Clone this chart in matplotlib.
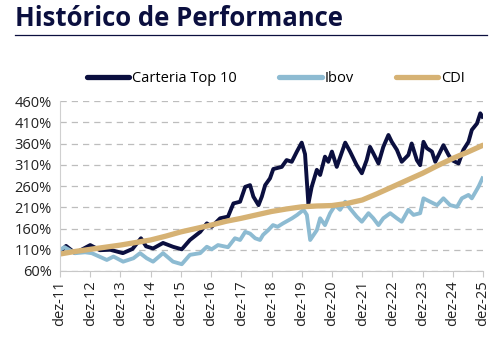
import matplotlib
matplotlib.use("Agg")
import matplotlib.pyplot as plt
from matplotlib.lines import Line2D
import numpy as np

# years since dez-11
tick_labels = ['dez-11', 'dez-12', 'dez-13', 'dez-14', 'dez-15', 'dez-16', 'dez-17',
               'dez-18', 'dez-19', 'dez-20', 'dez-21', 'dez-22', 'dez-23', 'dez-24', 'dez-25']

top10_t = [0, 0.2, 0.5, 1.0, 1.32, 1.66, 2.08, 2.4, 2.68, 2.85, 3.08, 3.41, 3.74, 4.03,
           4.3, 4.64, 4.86, 5.02, 5.3, 5.56, 5.74, 5.96, 6.13, 6.29, 6.4, 6.57, 6.68,
           6.79, 6.95, 7.06, 7.34, 7.5, 7.67, 7.84, 8.0, 8.11, 8.22, 8.33, 8.5, 8.61,
           8.77, 8.88, 9.0, 9.16, 9.44, 9.6, 9.82, 9.99, 10.15, 10.26, 10.37, 10.54,
           10.7, 10.87, 10.98, 11.15, 11.31, 11.53, 11.64, 11.81, 11.92, 12.03, 12.14,
           12.31, 12.42, 12.69, 12.86, 12.97, 13.19, 13.35, 13.52, 13.63, 13.8, 13.91, 13.98]
top10_v = [105, 119, 102, 121, 109, 110, 102, 112, 137, 118, 113, 126, 117, 111,
           133, 152, 172, 164, 184, 188, 219, 223, 258, 262, 235, 215, 235,
           262, 278, 300, 305, 321, 317, 341, 362, 335, 218, 258, 298, 286,
           329, 317, 341, 305, 362, 341, 309, 290, 321, 352, 337, 313,
           352, 380, 364, 345, 317, 333, 360, 321, 309, 364, 349,
           341, 317, 356, 333, 321, 313, 345, 364, 392, 407, 431, 423]

ibov_t = [0, 0.15, 0.5, 0.83, 1.05, 1.55, 1.77, 2.09, 2.43, 2.65, 2.87, 3.08, 3.41, 3.74,
          4.03, 4.3, 4.64, 4.86, 5.02, 5.23, 5.56, 5.79, 5.96, 6.13, 6.29, 6.46, 6.62,
          6.72, 6.89, 7.05, 7.2, 7.38, 7.68, 7.85, 8.06, 8.17, 8.28, 8.5, 8.61, 8.77,
          8.94, 9.11, 9.27, 9.44, 9.6, 9.82, 9.99, 10.21, 10.37, 10.54, 10.7, 10.93,
          11.15, 11.31, 11.53, 11.7, 11.92, 12.03, 12.25, 12.48, 12.69, 12.91, 13.14,
          13.3, 13.52, 13.63, 13.85, 13.98]
ibov_v = [110, 116, 102, 104, 102, 86, 94, 82, 90, 102, 90, 82, 102, 82,
          76, 98, 102, 117, 111, 121, 116, 137, 133, 152, 148, 137, 133,
          145, 156, 168, 164, 172, 184, 192, 204, 192, 133, 156, 184, 168,
          196, 215, 204, 223, 207, 188, 176, 196, 184, 168, 184, 196,
          184, 176, 204, 192, 196, 231, 223, 215, 231, 215, 211,
          231, 239, 231, 258, 278]

cdi_t = [0, 0.5, 1, 1.5, 2, 2.5, 3, 3.5, 4, 4.5, 5, 5.5, 6, 6.5, 7, 7.5, 8, 8.5, 9,
         9.5, 10, 10.5, 11, 11.5, 12, 12.5, 13, 13.5, 14]
cdi_v = [100, 106, 111, 116, 121, 127, 133, 142, 152, 160, 168, 177, 184, 192, 200,
         206, 211, 213, 214, 219, 227, 242, 258, 274, 290, 308, 325, 340, 356]

navy = '#0b0f3f'
light = '#8dbbd2'
tan = '#d6b274'

fig = plt.figure(figsize=(5.04, 3.39), dpi=100)

# title and rule
fig.text(15 / 504, 1 - 18 / 339, 'Histórico de Performance', fontsize=18.5,
         fontweight='bold', color=navy, family='Open Sans', va='center', ha='left')
fig.add_artist(Line2D([15 / 504, 487 / 504], [1 - 35 / 339, 1 - 35 / 339],
                      color=navy, lw=0.9, transform=fig.transFigure))

ax = fig.add_axes([60 / 504, 68 / 339, 423 / 504, 170 / 339])

ax.plot(top10_t, top10_v, color=navy, lw=2.8, solid_joinstyle='round', label='Carteria Top 10')
ax.plot(ibov_t, ibov_v, color=light, lw=2.8, solid_joinstyle='round', label='Ibov')
ax.plot(cdi_t, cdi_v, color=tan, lw=3.8, solid_capstyle='round', label='CDI')

ax.set_xlim(0, 14)
ax.set_ylim(60, 460)
ax.set_yticks(np.arange(60, 461, 50))
ax.set_yticklabels(['%d%%' % v for v in range(60, 461, 50)])
ax.set_xticks(np.arange(15))
ax.set_xticklabels(tick_labels, rotation=90)
ax.grid(axis='y', color='#bdbdbd', linestyle=(0, (5, 4)), lw=0.9)
ax.set_axisbelow(True)
for s in ['top', 'right']:
    ax.spines[s].set_visible(False)
ax.spines['left'].set_color('#d0d0d0')
ax.spines['bottom'].set_color('#c8c8c8')
ax.tick_params(axis='y', length=0, labelsize=10.5, labelcolor='#222222', pad=6)
ax.tick_params(axis='x', length=4, color='#c8c8c8', labelsize=10.5, labelcolor='#222222', pad=3)
for lab in ax.get_xticklabels() + ax.get_yticklabels():
    lab.set_family('Open Sans')

leg = fig.legend(loc='center', bbox_to_anchor=(276 / 504, 1 - 79 / 339), ncol=3,
                 frameon=False, handlelength=2.9, handletextpad=0.2, columnspacing=2.9,
                 prop={'family': 'Open Sans', 'size': 10.5})
for h in leg.get_lines():
    h.set_linewidth(3.8)
    h.set_solid_capstyle('round')

fig.savefig('out.png', dpi=100)
